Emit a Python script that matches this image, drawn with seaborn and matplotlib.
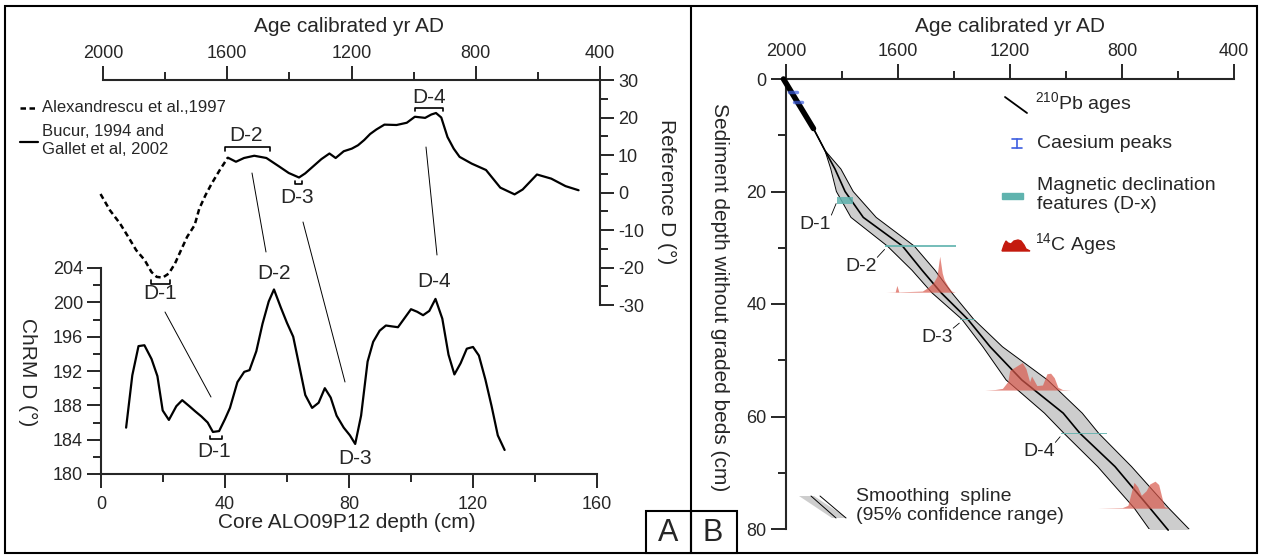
import numpy as np
import matplotlib
matplotlib.use("Agg")
import matplotlib.pyplot as plt
import matplotlib.transforms as mtransforms
import seaborn as sns
from matplotlib.lines import Line2D
from matplotlib.patches import Rectangle, Polygon
from matplotlib.ticker import MultipleLocator

W, H = 1261, 555

# ---- panel A, reference declination (age vs D) ----
ref_dash_age = [2008, 1978, 1945, 1919, 1893, 1866, 1844, 1827, 1808, 1788, 1768,
                1749, 1729, 1705, 1690, 1670, 1650, 1624, 1598]
ref_dash_d = [-0.4, -4.7, -8.3, -11.8, -15.4, -18.0, -21.2, -22.5, -22.7, -21.6, -18.9,
              -15.4, -11.8, -8.7, -4.3, -0.7, 2.4, 6.0, 9.3]
ref_solid_age = [1598, 1572, 1546, 1513, 1474, 1434, 1402, 1369, 1349, 1323, 1297, 1271,
                 1251, 1225, 1199, 1179, 1159, 1140, 1120, 1094, 1055, 1022, 996, 963,
                 943, 928, 911, 891, 871, 852, 813, 767, 721, 675, 649, 603, 557, 511, 469]
ref_solid_d = [9.3, 8.2, 9.2, 9.8, 9.2, 7.0, 5.2, 4.0, 5.1, 7.0, 8.9, 10.4,
               9.2, 11.0, 11.7, 12.6, 14.0, 15.6, 16.8, 18.1, 18.0, 18.6, 20.2, 19.9,
               20.8, 21.2, 20.0, 14.8, 11.7, 9.5, 7.7, 6.0, 1.3, -0.5, 0.8, 4.8, 3.7, 1.7, 0.6]

# ---- panel A, ChRM declination of the core ----
core_depth = [8.1, 10.1, 12.1, 14.0, 16.3, 18.2, 19.9, 21.9, 24.3, 26.2, 28.5, 30.4, 32.4,
              34.4, 36.1, 38.1, 40.0, 41.6, 44.0, 46.2, 47.9, 50.1, 52.1, 54.1, 55.8, 58.0,
              60.0, 62.0, 63.9, 65.9, 68.1, 70.2, 72.2, 74.1, 76.0, 78.3, 80.3, 82.0, 83.9,
              86.0, 87.8, 89.9, 91.9, 93.8, 95.8, 97.8, 100.0, 102.0, 103.9, 105.9, 107.9,
              110.1, 112.1, 114.0, 116.0, 118.0, 120.0, 121.9, 124.0, 126.0, 128.0, 130.2]
chrm_d = [185.4, 191.5, 194.9, 195.0, 193.4, 191.4, 187.4, 186.3, 187.9, 188.6, 187.9, 187.3,
          186.7, 186.0, 184.9, 185.0, 186.4, 187.7, 190.7, 191.9, 192.1, 194.3, 197.5, 200.1,
          201.5, 199.4, 197.6, 196.0, 192.7, 189.2, 187.7, 188.3, 190.0, 188.9, 186.8, 185.4,
          184.5, 183.5, 186.8, 193.1, 195.4, 196.7, 197.3, 197.2, 197.1, 198.1, 199.2, 198.9,
          198.5, 199.0, 200.4, 198.1, 193.9, 191.6, 192.9, 194.6, 194.8, 193.8, 191.0, 187.9,
          184.5, 182.8]

# ---- panel B, age-depth model ----
model_depth = [0, 8.8, 12.7, 16, 20, 24.6, 29.7, 34, 38, 42.7, 47.6, 53.5, 59.4, 63, 68.9, 76.3, 80.2]
model_mid = [2009, 1902, 1861, 1825, 1789, 1724, 1584, 1514, 1446, 1351, 1271, 1158, 1010, 950, 825, 700, 635]
model_young = [2009, 1902, 1861, 1840, 1820, 1768, 1638, 1550, 1479, 1372, 1297, 1214, 1077, 1007, 887, 756, 700]
model_old = [2009, 1902, 1861, 1804, 1760, 1678, 1542, 1468, 1408, 1330, 1227, 1066, 942, 883, 766, 633, 557]
pb_age = [2009, 1902]
pb_depth = [0, 8.8]
cs_age = [1976, 1957]
cs_depth = [2.3, 4.0]

mag_names = ["D-1", "D-2", "D-3", "D-4"]
mag_from = [1819, 1646, 1379, 1019]
mag_to = [1762, 1393, 1325, 855]
mag_depth = [21.55, 29.7, 42.8, 63.0]
mag_thick = [1.3, 0.25, 0.25, 0.25]
mag_label_age = [1896, 1732, 1461, 1096]
mag_label_depth = [25.9, 33.4, 46.0, 66.3]

c14_base = [37.9, 55.3, 76.3]
c14_age = [
    [1643, 1610, 1604, 1597, 1513, 1494, 1474, 1461, 1451, 1442, 1435, 1422, 1409, 1396],
    [1290, 1253, 1227, 1208, 1201, 1182, 1156, 1143, 1130, 1123, 1104, 1084, 1068, 1055,
     1042, 1029, 1013, 983],
    [887, 799, 779, 766, 757, 744, 731, 714, 701, 682, 669, 658, 649, 632],
]
c14_prob = [
    [0, 0.05, 1.2, 0.05, 0.2, 0.8, 1.7, 2.8, 6.4, 3.4, 2.2, 1.1, 0.2, 0],
    [0, 0.1, 0.3, 1.5, 3.5, 4.1, 4.9, 3.8, 1.5, 2.5, 0.8, 0.9, 2.9, 3.0, 2.2, 0.5, 0.1, 0],
    [0, 0.1, 0.5, 3.0, 4.6, 3.8, 2.3, 3.1, 4.3, 4.8, 4.2, 2.0, 0.3, 0],
]

sns.set_style("ticks")
plt.rcParams["font.family"] = ["Liberation Sans", "DejaVu Sans"]
plt.rcParams["mathtext.fontset"] = "custom"
plt.rcParams["mathtext.rm"] = "Liberation Sans"
plt.rcParams["axes.unicode_minus"] = False

fig = plt.figure(figsize=(W / 100, H / 100), dpi=100)
pix = mtransforms.Affine2D().scale(1 / W, -1 / H).translate(0, 1) + fig.transFigure


def box(l, t, r, b):
    return [l / W, 1 - b / H, (r - l) / W, (b - t) / H]


def style_ticks(ax, maj, minl):
    ax.tick_params(which="major", direction="out", length=maj, width=1.4, labelsize=13, pad=3)
    ax.tick_params(which="minor", direction="out", length=minl, width=1.4)
    for s in ax.spines.values():
        s.set_linewidth(1.5)


ax_ref = fig.add_axes(box(103, 80, 600, 305))
ax_chrm = fig.add_axes(box(101, 268, 597, 474))
ax_age = fig.add_axes(box(786, 79, 1234, 529))
for ax in (ax_ref, ax_chrm):
    ax.patch.set_visible(False)

# reference curve
sns.lineplot(x=ref_dash_age, y=ref_dash_d, ax=ax_ref, color="black", lw=1.8,
             dashes=False, linestyle=(0, (2.2, 1.4)), sort=False, estimator=None, clip_on=False)
sns.lineplot(x=ref_solid_age, y=ref_solid_d, ax=ax_ref, color="black", lw=1.6,
             sort=False, estimator=None, clip_on=False)
ax_ref.set_xlim(2000, 400)
ax_ref.set_ylim(-30, 30)
ax_ref.spines["left"].set_visible(False)
ax_ref.spines["bottom"].set_visible(False)
ax_ref.xaxis.tick_top()
ax_ref.yaxis.tick_right()
ax_ref.xaxis.set_major_locator(MultipleLocator(400))
ax_ref.xaxis.set_minor_locator(MultipleLocator(200))
ax_ref.yaxis.set_major_locator(MultipleLocator(10))
ax_ref.yaxis.set_minor_locator(MultipleLocator(5))
ax_ref.set_xlabel("")
ax_ref.set_ylabel("")
style_ticks(ax_ref, 10, 6)

# brackets on the reference curve
def bracket(ax, x0, x1, y, h, lw=1.2):
    ax.plot([x0, x0, x1, x1], [y + h, y, y, y + h], color="black", lw=lw, clip_on=False)

bracket(ax_ref, 1847, 1784, -24.3, 1.0)
bracket(ax_ref, 1607, 1463, 12.2, -1.0)
bracket(ax_ref, 1383, 1360, 2.2, 0.9)
bracket(ax_ref, 996, 904, 22.6, -0.9)
for t, xa, ya in [("D-1", 1817, -27.0), ("D-2", 1539, 15.3), ("D-3", 1376, -1.2), ("D-4", 950, 25.3)]:
    ax_ref.text(xa, ya, t, ha="center", va="center", fontsize=15)

# ChRM curve
sns.lineplot(x=core_depth, y=chrm_d, ax=ax_chrm, color="black", lw=1.6,
             sort=False, estimator=None)
ax_chrm.set_xlim(0, 160)
ax_chrm.set_ylim(180, 204)
ax_chrm.spines["top"].set_visible(False)
ax_chrm.spines["right"].set_visible(False)
ax_chrm.xaxis.set_major_locator(MultipleLocator(40))
ax_chrm.xaxis.set_minor_locator(MultipleLocator(20))
ax_chrm.yaxis.set_major_locator(MultipleLocator(4))
ax_chrm.yaxis.set_minor_locator(MultipleLocator(2))
ax_chrm.set_xlabel("")
ax_chrm.set_ylabel("")
style_ticks(ax_chrm, 10, 5.5)
ax_chrm.tick_params(axis="x", pad=6)
bracket(ax_chrm, 35.0, 38.9, 184.06, 0.35)
for t, xa, ya in [("D-1", 36.4, 182.6), ("D-2", 55.8, 203.4), ("D-3", 82.0, 181.8), ("D-4", 107.6, 202.4)]:
    ax_chrm.text(xa, ya, t, ha="center", va="center", fontsize=15)

# correlation tie lines between the two curves
for (x0, y0), (x1, y1) in [((165, 312), (211, 397)), ((252, 173), (266, 252)),
                           ((303, 222), (345, 382)), ((426, 147), (437, 255))]:
    fig.add_artist(Line2D([x0, x1], [y0, y1], transform=pix, color="black", lw=0.7))

# legend of panel A
fig.add_artist(Line2D([20, 38], [108, 108], transform=pix, color="black", lw=1.8,
                      linestyle=(0, (2.2, 1.4))))
fig.add_artist(Line2D([20, 38], [142, 142], transform=pix, color="black", lw=1.6))
fig.text(42, 108, "Alexandrescu et al.,1997", transform=pix, fontsize=12, va="center")
fig.text(42, 141, "Bucur, 1994 and\nGallet et al, 2002", transform=pix, fontsize=12,
         va="center", linespacing=1.25)

fig.text(349, 27, "Age calibrated yr AD", transform=pix, fontsize=15, ha="center", va="center")
fig.text(667, 192, "Reference D (°)", transform=pix, fontsize=15, ha="center", va="center",
         rotation=270)
fig.text(28, 372, "ChRM D (°)", transform=pix, fontsize=15, ha="center", va="center",
         rotation=270)
fig.text(347, 522, "Core ALO09P12 depth (cm)", transform=pix, fontsize=15, ha="center",
         va="center")

# ---- panel B ----
ax_age.fill_betweenx(model_depth, model_young, model_old, color="#cdcdcd", lw=0, zorder=1)
sns.lineplot(x=model_young, y=model_depth, ax=ax_age, color="black", lw=0.7,
             sort=False, estimator=None, zorder=2)
sns.lineplot(x=model_old, y=model_depth, ax=ax_age, color="black", lw=0.7,
             sort=False, estimator=None, zorder=2)
sns.lineplot(x=model_mid, y=model_depth, ax=ax_age, color="black", lw=1.2,
             sort=False, estimator=None, zorder=3, clip_on=False)
sns.lineplot(x=pb_age, y=pb_depth, ax=ax_age, color="black", lw=4,
             sort=False, estimator=None, zorder=3, clip_on=False)

for base, ages, prob in zip(c14_base, c14_age, c14_prob):
    ax_age.fill_between(ages, base, np.array(base) - np.array(prob), color="#d9594c",
                        alpha=0.7, lw=0, zorder=4)

for x0, x1, d, th in zip(mag_from, mag_to, mag_depth, mag_thick):
    ax_age.fill_between([x0, x1], d - th / 2, d + th / 2, color="#5fb3ae", alpha=0.85,
                        lw=0, zorder=5)

for name, la, ld, x0, d in zip(mag_names, mag_label_age, mag_label_depth, mag_from, mag_depth):
    ax_age.text(la, ld, name, ha="center", va="center", fontsize=14)
    ax_age.plot([la - 58, x0 + 2], [ld - 1.7, d + 0.6], color="black", lw=0.6)

for a, d in zip(cs_age, cs_depth):
    ax_age.plot([a + 14, a - 14], [d, d], color="#3d5ee0", lw=2.5, alpha=0.7, zorder=6)

ax_age.set_xlim(2000, 400)
ax_age.set_ylim(80, 0)
ax_age.spines["right"].set_visible(False)
ax_age.spines["bottom"].set_visible(False)
ax_age.xaxis.tick_top()
ax_age.xaxis.set_major_locator(MultipleLocator(400))
ax_age.xaxis.set_minor_locator(MultipleLocator(200))
ax_age.yaxis.set_major_locator(MultipleLocator(20))
ax_age.yaxis.set_minor_locator(MultipleLocator(10))
ax_age.set_xlabel("")
ax_age.set_ylabel("")
style_ticks(ax_age, 11, 6)

fig.text(1010, 27, "Age calibrated yr AD", transform=pix, fontsize=15, ha="center", va="center")
fig.text(720, 297, "Sediment depth without graded beds (cm)", transform=pix, fontsize=15,
         ha="center", va="center", rotation=270)

# legend of panel B
fig.add_artist(Line2D([1005, 1027], [97, 113], transform=pix, color="black", lw=1.3))
fig.text(1035, 104, "$^{210}$Pb ages", transform=pix, fontsize=14, va="center")
fig.add_artist(Line2D([1012, 1022], [139, 139], transform=pix, color="#3d5ee0", lw=1.2))
fig.add_artist(Line2D([1012, 1022], [148, 148], transform=pix, color="#3d5ee0", lw=1.2))
fig.add_artist(Line2D([1017, 1017], [139, 148], transform=pix, color="#3d5ee0", lw=1.2))
fig.text(1037, 143, "Caesium peaks", transform=pix, fontsize=14, va="center")
fig.add_artist(Rectangle((1002, 193), 21, 6, transform=pix, color="#5fb3ae"))
fig.text(1037, 195, "Magnetic declination\nfeatures (D-x)", transform=pix, fontsize=14,
         va="center", linespacing=1.2)
fig.add_artist(Polygon([(1002, 251), (1004, 245), (1006, 241), (1008, 243), (1011, 244),
                        (1014, 241), (1018, 240), (1021, 241), (1024, 245), (1026, 249),
                        (1030, 251)], closed=True, transform=pix, color="#c41a0e"))
fig.text(1035, 245, "$^{14}$C Ages", transform=pix, fontsize=14, va="center")
fig.add_artist(Polygon([(799, 496), (814, 496), (847, 518), (832, 518)], closed=True,
                       transform=pix, facecolor="#cdcdcd", edgecolor="none"))
fig.add_artist(Line2D([811, 836], [496, 518], transform=pix, color="black", lw=0.7))
fig.add_artist(Line2D([820, 846], [496, 518], transform=pix, color="black", lw=0.7))
fig.text(856, 506, "Smoothing  spline\n(95% confidence range)", transform=pix, fontsize=14,
         va="center", linespacing=1.2)

# frame, divider and panel letters
fig.add_artist(Rectangle((5, 6), 1252, 547, transform=pix, fill=False, edgecolor="black", lw=1.5))
fig.add_artist(Line2D([691, 691], [6, 553], transform=pix, color="black", lw=1.5))
fig.add_artist(Rectangle((646, 511), 91, 42, transform=pix, facecolor="white",
                         edgecolor="black", lw=1.5))
fig.add_artist(Line2D([691, 691], [511, 553], transform=pix, color="black", lw=1.5))
fig.text(668, 533, "A", transform=pix, fontsize=22, ha="center", va="center")
fig.text(713, 533, "B", transform=pix, fontsize=22, ha="center", va="center")

fig.savefig("out.png", dpi=100)
